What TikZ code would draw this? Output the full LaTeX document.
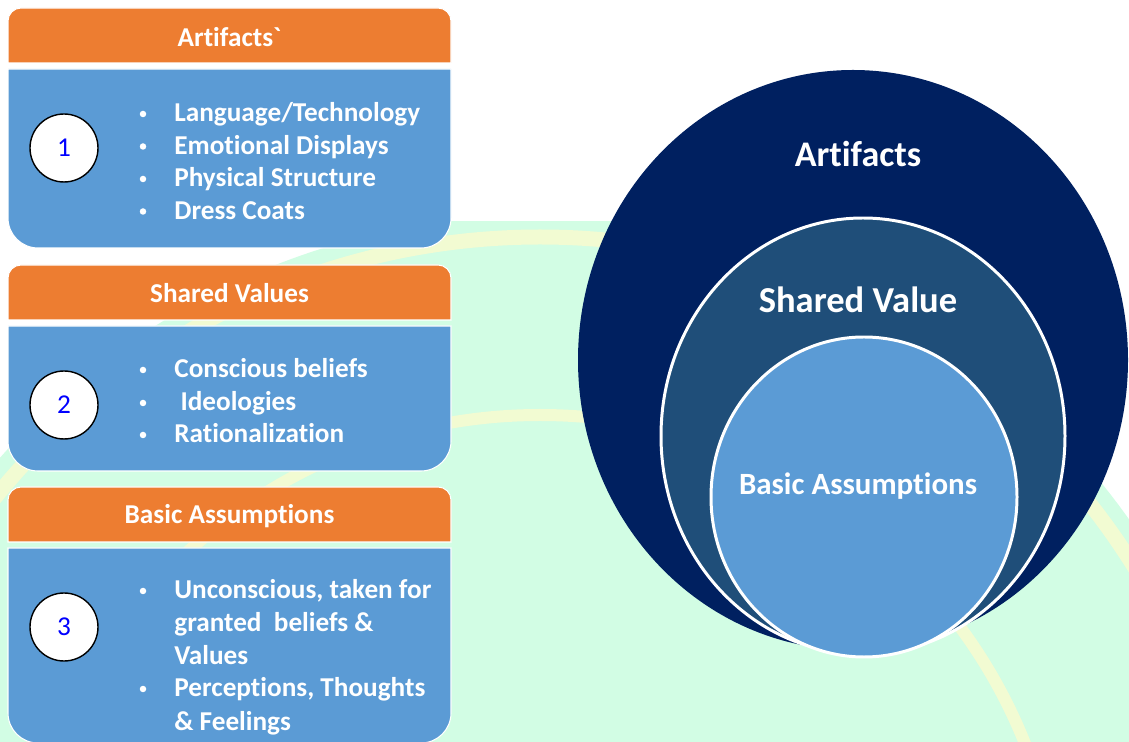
\documentclass[tikz,border=0pt]{standalone}
\usepackage{fontspec}
\setmainfont{Carlito}[Ligatures={TeX,NoCommon}, Contextuals=NoAlternate]

\definecolor{hdorange}{HTML}{ED7D31}
\definecolor{bodyblue}{HTML}{5B9BD5}
\definecolor{navy}{HTML}{002060}
\definecolor{midblue}{HTML}{1F4E79}
\definecolor{mint}{HTML}{D2FDE4}
\definecolor{paleyellow}{HTML}{F2FBD2}

\tikzset{
  header/.style={fill=hdorange, draw=white, line width=0.6pt},
  panel/.style={fill=bodyblue, draw=white, line width=0.6pt},
  headtext/.style={text=white, anchor=base, inner sep=0pt, font=\bfseries\fontsize{15.5}{18}\selectfont},
  item/.style={text=white, anchor=base west, inner sep=0pt, font=\bfseries\fontsize{15.5}{18}\selectfont},
  dot/.style={circle, fill=white, inner sep=0pt, minimum size=0.13cm},
  numcircle/.style={circle, draw=black, fill=white, line width=0.8pt, minimum size=1.36cm,
    inner sep=0pt, text=blue, font=\fontsize{15.5}{18}\selectfont},
  ringtext/.style={text=white, anchor=base, inner sep=0pt}
}

\begin{document}
\begin{tikzpicture}[x=0.02cm, y=-0.02cm]
\useasboundingbox (0,0) rectangle (1129,742);

% faint logo in the background
\begin{scope}
  \clip (0,222) rectangle (1129,742);
  \fill[mint] (540,937) circle[radius=722];
  \draw[paleyellow, line width=0.3cm] (540,937) circle[radius=700];
  \draw[paleyellow, line width=0.24cm] (540,937) circle[radius=522];
\end{scope}

% left column: header bar + panel
\foreach \top/\mid/\bot in {8/63/248, 265/320/471, 487/542/743} {
  \draw[header] (8,\mid) [rounded corners=0.26cm] -- (8,\top) -- (451,\top) [sharp corners] -- (451,\mid) -- cycle;
  \draw[panel] (451,\mid+6) -- (8,\mid+6) [rounded corners=0.6cm] -- (8,\bot) -- (451,\bot) [sharp corners] -- cycle;
}

\node[headtext] (h1) at (229.5,47)  {Artifacts\textasciigrave};
\node[headtext] (h2) at (229.5,303) {Shared Values};
\node[headtext] (h3) at (229.5,524) {Basic Assumptions};

\node[numcircle] (n1) at (64,148) {1};
\node[numcircle] (n2) at (64,405) {2};
\node[numcircle] (n3) at (64,627) {3};

% first panel
\foreach \y/\txt [count=\i] in {122/{Language/Technology}, 154.5/{Emotional Displays},
    187/{Physical Structure}, 219.5/{Dress Coats}} {
  \node[dot]  (da\i) at (143,\y-8) {};
  \node[item] (a\i)  at (174,\y) {\txt};
}

% second panel
\foreach \y/\txt [count=\i] in {378/{Conscious beliefs}, 411/{\ Ideologies}, 443/{Rationalization}} {
  \node[dot]  (db\i) at (143,\y-8) {};
  \node[item] (b\i)  at (174,\y) {\txt};
}

% third panel
\node[dot]  (dc1) at (143,591) {};
\node[item] (c1)  at (174,599) {Unconscious, taken for};
\node[item] (c2)  at (174,632) {granted\ \ beliefs \&};
\node[item] (c3)  at (174,664) {Values};
\node[dot]  (dc2) at (143,689) {};
\node[item] (c4)  at (174,697) {Perceptions, Thoughts};
\node[item] (c5)  at (174,730) {\& Feelings};

% nested ovals on the right
\fill[navy] (853,360) ellipse[x radius=275, y radius=290];
\filldraw[midblue, draw=white, line width=1.7pt] (863,436) ellipse[x radius=202, y radius=218];
\filldraw[bodyblue, draw=white, line width=1.7pt] (864,497) ellipse[x radius=153, y radius=160];

\node[ringtext, font=\bfseries\fontsize{20.5}{23}\selectfont] (outer)  at (858,167) {Artifacts};
\node[ringtext, font=\bfseries\fontsize{20.8}{24}\selectfont] (middle) at (858,313) {Shared Value};
\node[ringtext, font=\bfseries\fontsize{17.6}{20}\selectfont] (inner)  at (858,495) {Basic Assumptions};

\end{tikzpicture}
\end{document}
